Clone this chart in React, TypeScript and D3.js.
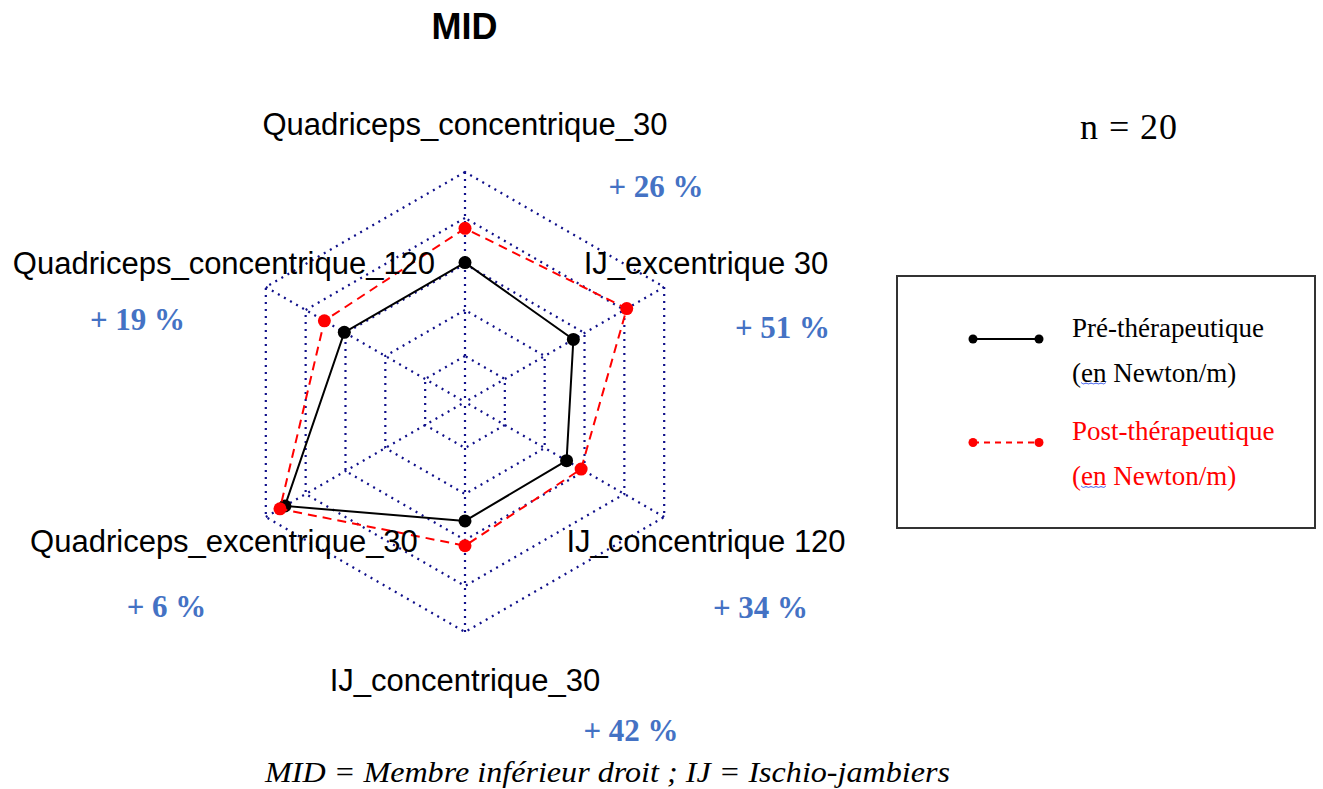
import * as d3 from 'd3';

// axes, counterclockwise starting from the top (fmsb order)
const categories = [
  'Quadriceps_concentrique_30',
  'Quadriceps_concentrique_120',
  'Quadriceps_excentrique_30',
  'IJ_concentrique_30',
  'IJ_concentrique 120',
  'IJ_excentrique 30',
];
// values as a share of the axis maximum
const preValues = [0.606, 0.606, 0.904, 0.517, 0.51, 0.544];
const postValues = [0.755, 0.706, 0.929, 0.625, 0.583, 0.812];
const gains = ['+ 26 %', '+ 19 %', '+ 6 %', '+ 42 %', '+ 34 %', '+ 51 %'];
const gridLevels = [0.2, 0.4, 0.6, 0.8, 1];
const legendLabels = ['Pré-thérapeutique', 'Post-thérapeutique'];

const W = 1323;
const H = 789;
const cx = 465;
const cy = 402;
const R = 230;
const arial = '"Liberation Sans", Arial, sans-serif';
const times = '"Liberation Serif", "Times New Roman", serif';
const gridColor = '#10108a';
const gainColor = '#4472c4';

// where the gain annotations sit
const gainPos = [
  [656, 197],
  [137.5, 330],
  [166.5, 617],
  [631, 741],
  [760.5, 618],
  [782.5, 338],
];

export default function App() {
  const r = d3.scaleLinear().domain([0, 1]).range([0, R]);
  const angle = (i: number) => Math.PI / 2 + (i * 2 * Math.PI) / categories.length;
  const pt = (i: number, v: number): [number, number] => [
    cx + r(v) * Math.cos(angle(i)),
    cy - r(v) * Math.sin(angle(i)),
  ];
  const closed = d3.line().curve(d3.curveLinearClosed);

  const series = [
    { values: preValues, color: '#000', dash: null as string | null },
    { values: postValues, color: '#ff0000', dash: '9 6' },
  ];

  const wavy = (x0: number, x1: number, y: number) => {
    const pts: [number, number][] = [];
    let k = 0;
    for (let x = x0; x <= x1; x += 2.5) {
      pts.push([x, y + (k % 2 === 0 ? -1.2 : 1.2)]);
      k++;
    }
    return d3.line().curve(d3.curveBasis)(pts) || '';
  };

  const legendRows = [
    { y: 339, textY: 336.5, color: '#000', dash: null as string | null },
    { y: 442.5, textY: 440, color: '#ff0000', dash: '6 5' },
  ];

  return (
    <svg width={W} height={H} style={{ position: 'absolute', left: 0, top: 0, background: '#fff' }}>
      <text x={464.5} y={39} textAnchor="middle" fontFamily={arial} fontWeight="bold" fontSize={36}>
        MID
      </text>

      {/* grid */}
      <g fill="none" stroke={gridColor} strokeWidth={2.2} strokeDasharray="2 5">
        {gridLevels.map((lv) => (
          <path key={lv} d={closed(categories.map((_, i) => pt(i, lv))) || ''} />
        ))}
        {categories.map((_, i) => {
          const [x, y] = pt(i, 1);
          return <line key={i} x1={x} y1={y} x2={cx} y2={cy} />;
        })}
      </g>

      {/* series */}
      {series.map((s, si) => (
        <g key={si}>
          <path
            d={closed(s.values.map((v, i) => pt(i, v))) || ''}
            fill="none"
            stroke={s.color}
            strokeWidth={2}
            strokeDasharray={s.dash || undefined}
          />
          {s.values.map((v, i) => {
            const [x, y] = pt(i, v);
            return <circle key={i} cx={x} cy={y} r={6.5} fill={s.color} />;
          })}
        </g>
      ))}

      {/* axis labels */}
      {categories.map((c, i) => {
        const [x, y] = pt(i, 1.21);
        return (
          <text key={c} x={x} y={y + 11} textAnchor="middle" fontFamily={arial} fontSize={31} fill="#000">
            {c}
          </text>
        );
      })}

      {/* gains */}
      {gains.map((g, i) => (
        <text
          key={i}
          x={gainPos[i][0]}
          y={gainPos[i][1]}
          textAnchor="middle"
          fontFamily={times}
          fontWeight="bold"
          fontSize={31}
          fill={gainColor}
        >
          {g}
        </text>
      ))}

      <text x={1080} y={139} fontFamily={times} fontSize={36} textLength={97} fill="#000">
        n = 20
      </text>

      {/* legend */}
      <rect x={897} y={276} width={418} height={252} fill="none" stroke="#333" strokeWidth={2} />
      {legendRows.map((row, i) => (
        <g key={i}>
          <line x1={973} x2={1039} y1={row.y} y2={row.y} stroke={row.color} strokeWidth={2} strokeDasharray={row.dash || undefined} />
          <circle cx={973} cy={row.y} r={4.5} fill={row.color} />
          <circle cx={1039} cy={row.y} r={4.5} fill={row.color} />
          <text x={1072} y={row.textY} fontFamily={times} fontSize={27} fill={row.color}>
            {legendLabels[i]}
          </text>
          <text x={1072} y={row.textY + 45} fontFamily={times} fontSize={27} fill={row.color}>
            (en Newton/m)
          </text>
          <path d={wavy(1081, 1106, row.textY + 47)} fill="none" stroke="#3355ee" strokeWidth={1} />
        </g>
      ))}

      <text
        x={265}
        y={782}
        fontFamily={times}
        fontStyle="italic"
        fontSize={30}
        textLength={685}
        lengthAdjust="spacingAndGlyphs"
        fill="#000"
      >
        MID = Membre inférieur droit ; IJ = Ischio-jambiers
      </text>
    </svg>
  );
}
